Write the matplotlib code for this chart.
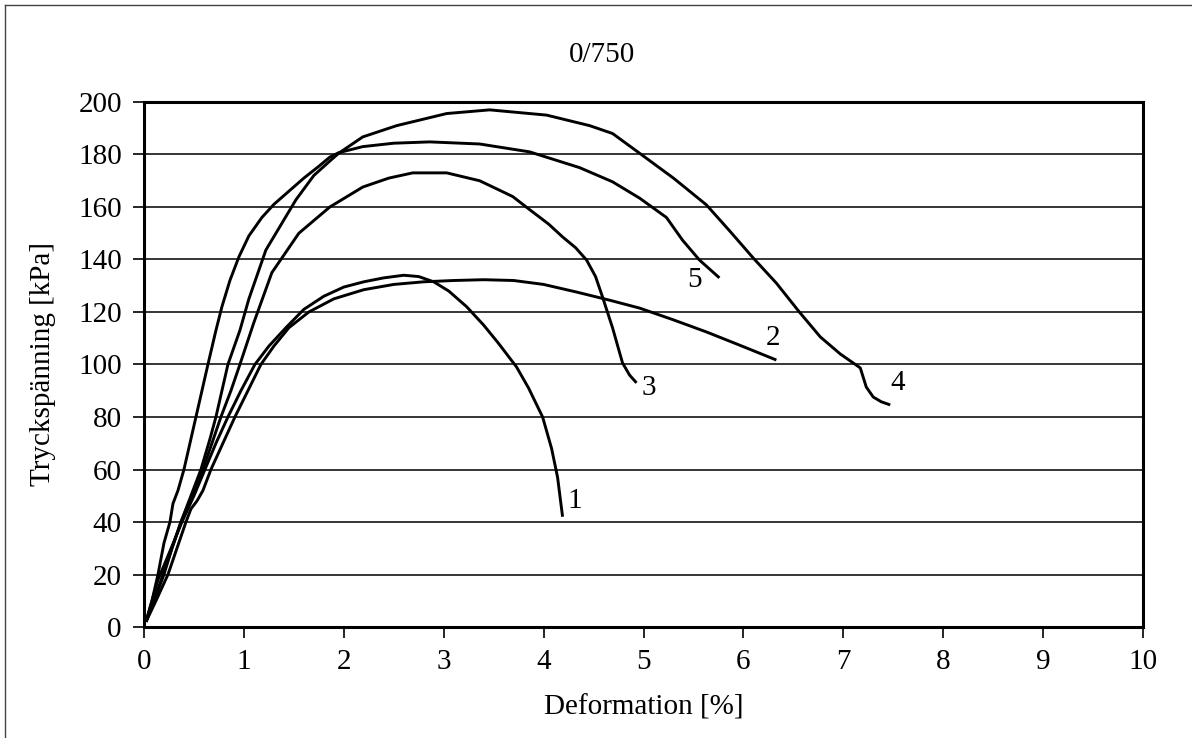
import matplotlib
matplotlib.use("Agg")
import matplotlib.pyplot as plt
from matplotlib.lines import Line2D

plt.rcParams['font.family'] = ['Liberation Serif', 'DejaVu Serif']

title = "0/750"
xlabel = "Deformation [%]"
ylabel = "Tryckspänning [kPa]"
xticks = [0, 1, 2, 3, 4, 5, 6, 7, 8, 9, 10]
yticks = [0, 20, 40, 60, 80, 100, 120, 140, 160, 180, 200]

x1 = [0.02, 0.14, 0.25, 0.38, 0.5, 0.61, 0.72, 0.84, 0.97, 1.11, 1.25, 1.42, 1.6, 1.8, 2.0, 2.2, 2.4, 2.6, 2.75,
      2.9, 3.05, 3.23, 3.4, 3.55, 3.73, 3.85, 3.99, 4.08, 4.14, 4.19]
y1 = [2, 18, 28, 40, 50, 60, 70, 80, 90, 100, 107, 114, 121, 126, 129.5, 131.5, 133, 134, 133.5,
      131.5, 128, 122, 115, 108, 99, 91, 80, 68, 57, 42]

x2 = [0.02, 0.12, 0.24, 0.33, 0.42, 0.47, 0.53, 0.59, 0.67, 0.79, 0.91, 1.04, 1.17, 1.3, 1.45, 1.65, 1.9, 2.2,
      2.5, 2.8, 3.1, 3.4, 3.7, 4.0, 4.33, 4.66, 4.96, 5.3, 5.63, 5.96, 6.33]
y2 = [2, 10, 20, 30, 40, 45, 48, 52, 60, 70, 80, 90, 100, 107, 114, 120, 125, 128.5,
      130.5, 131.5, 132, 132.3, 132, 130.5, 127.6, 124.5, 121.5, 117, 112.4, 107.4, 101.7]

x3 = [0.02, 0.1, 0.2, 0.28, 0.37, 0.48, 0.59, 0.68, 0.77, 0.87, 0.96, 1.1, 1.28, 1.55, 1.86, 2.19, 2.45, 2.69,
      3.03, 3.36, 3.69, 3.86, 4.05, 4.19, 4.32, 4.43, 4.52, 4.59, 4.69, 4.79, 4.86, 4.93]
y3 = [2, 10, 20, 30, 40, 50, 60, 70, 80, 90, 100, 116, 135, 150, 160, 167.6, 171, 173,
      173, 170, 164, 159, 153.5, 148.6, 144.5, 139.8, 133.5, 125.7, 114, 100.6, 96, 93]

x4 = [0.02, 0.1, 0.19, 0.28, 0.37, 0.47, 0.57, 0.66, 0.72, 0.84, 0.96, 1.05, 1.22, 1.52, 1.7, 1.86, 1.95, 2.19,
      2.53, 3.03, 3.46, 4.03, 4.46, 4.69, 4.96, 5.3, 5.63, 5.86, 6.1, 6.33, 6.56, 6.77, 6.97, 7.17, 7.23,
      7.3, 7.38, 7.47]
y4 = [2, 10, 20, 30, 40, 50, 60, 71.6, 80, 100, 113, 125, 143.6, 162.7, 172, 177.5, 180.5, 186.7,
      191, 195.6, 197, 195, 191, 188, 180.5, 171, 160.8, 151, 140.5, 131, 120, 110.5, 104, 98.7, 91.4,
      87.6, 85.8, 84.6]

x5 = [0.02, 0.08, 0.14, 0.2, 0.26, 0.29, 0.34, 0.4, 0.46, 0.52, 0.58, 0.64, 0.72, 0.78, 0.86, 0.95, 1.05, 1.18,
      1.3, 1.45, 1.6, 1.75, 1.86, 1.95, 2.19, 2.5, 2.86, 3.36, 3.86, 4.36, 4.69, 4.96, 5.23, 5.39, 5.56, 5.76]
y5 = [2, 10, 20, 32, 40, 47, 52, 60, 70, 80, 90, 100, 113, 122, 132, 141, 149, 156,
      161, 166, 171, 175.5, 179, 180.7, 183, 184.3, 184.8, 184, 181, 175, 169.6, 163.4, 156, 147.4, 139.8, 133]

series = [(x1, y1), (x2, y2), (x3, y3), (x4, y4), (x5, y5)]
curve_labels = ["1", "2", "3", "4", "5"]
label_pos_x = [4.31, 6.30, 5.05, 7.54, 5.51]
label_pos_y = [48, 110, 91, 93, 132]

fig = plt.figure(figsize=(11.92, 7.38), dpi=100)
ax = fig.add_axes([0.1208, 0.1504, 0.8381, 0.7114])

for xs, ys in series:
    ax.plot(xs, ys, color='black', lw=2.1, solid_joinstyle='round', solid_capstyle='butt', zorder=3)

for lab, lx, ly in zip(curve_labels, label_pos_x, label_pos_y):
    ax.text(lx, ly, lab, fontsize=21, ha='center', va='center', zorder=4)

ax.set_xlim(0, 10)
ax.set_ylim(0, 200)
ax.set_xticks(xticks)
ax.set_yticks(yticks)
ax.set_xticklabels([str(v) for v in xticks], fontsize=21)
ax.set_yticklabels([str(v) for v in yticks], fontsize=21)
ax.tick_params(direction='out', length=8, width=1.2, pad=8)
ax.yaxis.grid(True, color='black', lw=1.1)
ax.set_axisbelow(True)
for s in ax.spines.values():
    s.set_linewidth(2.2)

ax.set_xlabel(xlabel, fontsize=21, labelpad=14)
ax.set_ylabel(ylabel, fontsize=21, labelpad=16)
fig.text(0.505, 0.925, title, fontsize=21, ha='center', va='center')

fig.add_artist(Line2D([0.0042, 0.0042], [0, 0.9932], transform=fig.transFigure, color='#444444', lw=1))
fig.add_artist(Line2D([0.0042, 1], [0.9932, 0.9932], transform=fig.transFigure, color='#444444', lw=1))

fig.savefig("out.png", dpi=100, facecolor='white')
